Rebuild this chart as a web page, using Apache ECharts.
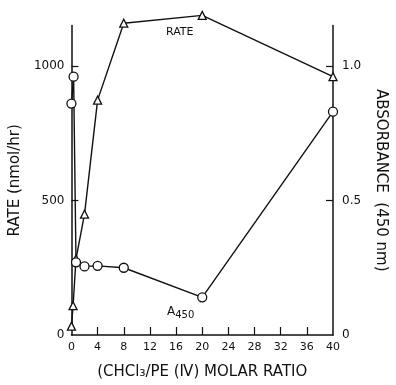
<!DOCTYPE html>
<html>
<head>
<meta charset="utf-8">
<script src="https://cdn.jsdelivr.net/npm/echarts@6/dist/echarts.min.js"></script>
<style>
  html, body { margin: 0; padding: 0; background: #fff; }
  #chart { width: 396px; height: 385px; }
</style>
</head>
<body>
<div id="chart"></div>
<script>
// molar ratio (x) and measured values
const rateRatio = [0, 0.25, 0.7, 2, 4, 8, 20, 40];
const rateValues = [33, 109, 283, 449, 873, 1159, 1188, 960];
const absRatio = [0, 0.33, 0.7, 2, 4, 8, 20, 40];
const absValues = [0.86, 0.96, 0.27, 0.255, 0.257, 0.25, 0.14, 0.83];

const xTicks = [0, 4, 8, 12, 16, 20, 24, 28, 32, 36, 40];
const rateTicks = [0, 500, 1000];
const absTicks = [0, 0.5, 1.0];

const font = 'DejaVu Sans';
const ink = '#111';

function pairs(xs, ys) {
    return xs.map(function (x, i) { return [x, ys[i]]; });
}

const myChart = echarts.init(document.getElementById('chart'));
myChart.setOption({
    animation: false,
    textStyle: { fontFamily: font, color: ink },
    grid: { left: 70, right: 49, top: 25.6, bottom: 42 },
    xAxis: {
        type: 'value',
        min: 0,
        max: 40,
        interval: 4,
        name: '(CHCl\u2083/PE (\u2163) MOLAR RATIO',
        nameLocation: 'middle',
        nameGap: 30,
        nameTextStyle: { fontSize: 15, fontFamily: font, color: ink },
        axisLine: { lineStyle: { color: ink, width: 1.5 } },
        axisTick: { inside: true, length: 8, lineStyle: { color: ink, width: 1.2 }, customValues: xTicks.slice(1, -1) },
        axisLabel: { customValues: xTicks, fontSize: 11, margin: 7, color: ink, fontFamily: font },
        splitLine: { show: false }
    },
    yAxis: [
        {
            type: 'value',
            min: 0,
            max: 1150,
            name: 'RATE (nmol/hr)',
            nameLocation: 'middle',
            nameRotate: 90,
            nameGap: 47,
            nameTextStyle: { fontSize: 15, fontFamily: font, color: ink },
            axisLine: { show: true, lineStyle: { color: ink, width: 1.5 } },
            axisTick: { show: true, inside: true, length: 7, lineStyle: { color: ink, width: 1.2 }, customValues: rateTicks.slice(1) },
            axisLabel: {
                customValues: rateTicks,
                fontSize: 12,
                margin: 7,
                color: ink,
                fontFamily: font,
                formatter: function (v) { return String(v); }
            },
            splitLine: { show: false }
        },
        {
            type: 'value',
            min: 0,
            max: 1.15,
            position: 'right',
            name: 'ABSORBANCE  (450 nm)',
            nameLocation: 'middle',
            nameRotate: -90,
            nameGap: 40,
            nameTextStyle: { fontSize: 15, fontFamily: font, color: ink },
            axisLine: { show: true, lineStyle: { color: ink, width: 1.5 } },
            axisTick: { show: true, inside: true, length: 7, lineStyle: { color: ink, width: 1.2 }, customValues: absTicks.slice(1) },
            axisLabel: {
                customValues: absTicks,
                fontSize: 12,
                margin: 9,
                color: ink,
                fontFamily: font,
                formatter: function (v) { return v === 0 ? '0' : v.toFixed(1); }
            },
            splitLine: { show: false }
        }
    ],
    series: [
        {
            name: 'RATE',
            type: 'line',
            yAxisIndex: 0,
            clip: false,
            symbol: 'triangle',
            symbolSize: 8,
            itemStyle: { color: '#fff', borderColor: ink, borderWidth: 1.3 },
            lineStyle: { color: ink, width: 1.4 },
            data: pairs(rateRatio, rateValues)
        },
        {
            name: 'A450',
            type: 'line',
            yAxisIndex: 1,
            clip: false,
            symbol: 'circle',
            symbolSize: 9,
            itemStyle: { color: '#fff', borderColor: ink, borderWidth: 1.3 },
            lineStyle: { color: ink, width: 1.4 },
            data: pairs(absRatio, absValues)
        }
    ],
    graphic: [
        {
            type: 'text',
            left: 166,
            top: 27,
            style: { text: 'RATE', font: '11px "DejaVu Sans"', fill: ink }
        },
        {
            type: 'text',
            left: 167,
            top: 306,
            style: {
                text: '{a|A}{s|450}',
                rich: {
                    a: { fontSize: 12, fontFamily: font, fill: ink },
                    s: { fontSize: 10, fontFamily: font, fill: ink, padding: [6, 0, 0, 0] }
                }
            }
        }
    ]
});
</script>
</body>
</html>
